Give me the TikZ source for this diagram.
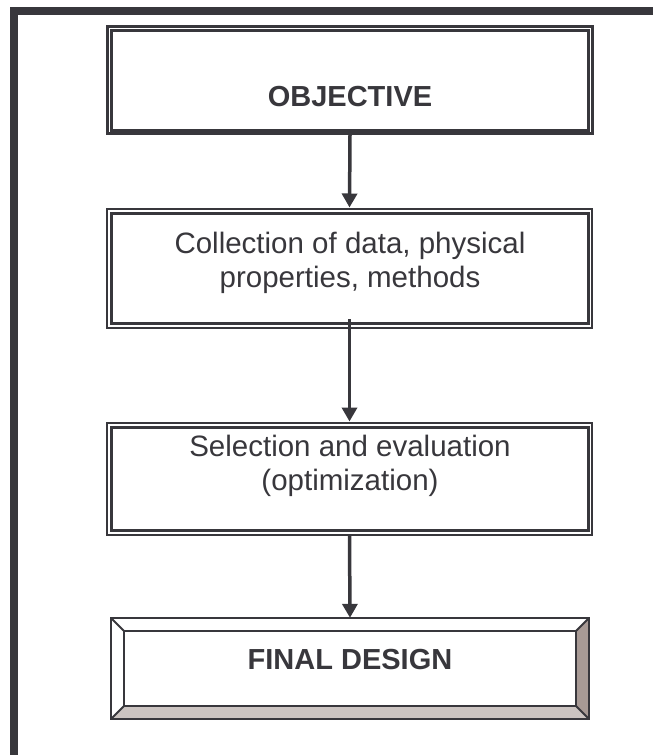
\documentclass[tikz,border=0pt]{standalone}
\usepackage{fontspec}
\setmainfont{Liberation Sans}
\usetikzlibrary{arrows.meta}

\definecolor{ink}{RGB}{56,55,60}
\definecolor{bevellight}{RGB}{204,196,193}
\definecolor{beveldark}{RGB}{168,154,149}

\tikzset{
  boxtext/.style={text=ink, font=\fontsize{29.5pt}{34pt}\selectfont, align=center, anchor=base, inner sep=0pt},
  headtext/.style={boxtext, font=\fontsize{29pt}{34pt}\selectfont\bfseries},
  outerbox/.style={draw=ink, line width=2pt, rectangle, inner sep=0pt},
  innerline/.style={draw=ink, line width=3pt},
  flow/.style={draw=ink, line width=3.5pt, -{Triangle[width=15pt,length=14pt]}}
}

\begin{document}
\begin{tikzpicture}

    \useasboundingbox (0pt, 0pt) rectangle (653pt, -755pt);

    % frame on top and left
    \fill[ink] (10pt, -7pt) rectangle (653pt, -15pt);
    \fill[ink] (10pt, -7pt) rectangle (17.5pt, -755pt);

    \node at (350pt, -79.75pt) (obj) [outerbox, line width=3pt, minimum width=485pt, minimum height=107.5pt] {};
    \node at (349.5pt, -268.25pt) (coll) [outerbox, minimum width=485pt, minimum height=119.5pt] {};
    \node at (349.5pt, -478.75pt) (sel) [outerbox, minimum width=485pt, minimum height=112.5pt] {};
    \node at (350pt, -668.5pt) (fd) [rectangle, inner sep=0pt, minimum width=478pt, minimum height=101pt] {};

    \draw[innerline] ([shift={(5pt,-5.5pt)}]obj.north west) rectangle ([shift={(-5.5pt,4.5pt)}]obj.south east);
    \draw[innerline] ([shift={(5.5pt,-5.5pt)}]coll.north west) rectangle ([shift={(-5pt,5.5pt)}]coll.south east);
    \draw[innerline] ([shift={(5.5pt,-5.5pt)}]sel.north west) rectangle ([shift={(-5pt,5.5pt)}]sel.south east);

    % bevel of the last box
    \fill[bevellight] (fd.south west) -- (fd.south east) -- ([shift={(-13pt,13pt)}]fd.south east) -- ([shift={(13pt,13pt)}]fd.south west) -- cycle;
    \fill[beveldark] (fd.north east) -- (fd.south east) -- ([shift={(-13pt,13pt)}]fd.south east) -- ([shift={(-13pt,-13pt)}]fd.north east) -- cycle;
    \draw[ink, line width=2.5pt] (fd.north west) rectangle (fd.south east);
    \draw[ink, line width=2.5pt] ([shift={(13pt,-13pt)}]fd.north west) rectangle ([shift={(-13pt,13pt)}]fd.south east);
    \draw[ink, line width=2pt] (fd.north west) -- ([shift={(13pt,-13pt)}]fd.north west);
    \draw[ink, line width=2pt] (fd.north east) -- ([shift={(-13pt,-13pt)}]fd.north east);
    \draw[ink, line width=2pt] (fd.south west) -- ([shift={(13pt,13pt)}]fd.south west);
    \draw[ink, line width=2pt] (fd.south east) -- ([shift={(-13pt,13pt)}]fd.south east);

    \node at (350pt, -106pt) (objtext) [headtext] {OBJECTIVE};
    \node at (350pt, -287pt) (colltext) [boxtext] {Collection of data, physical\\properties, methods};
    \node at (350pt, -490pt) (seltext) [boxtext] {Selection and evaluation\\(optimization)};
    \node at (350pt, -669pt) (fdtext) [headtext] {FINAL DESIGN};

    \path[flow] (obj.south) -- (coll.north);
    \path[flow, shorten <=-10pt] (coll.south) -- (sel.north);
    \path[flow] (sel.south) -- (fd.north);

\end{tikzpicture}
\end{document}
